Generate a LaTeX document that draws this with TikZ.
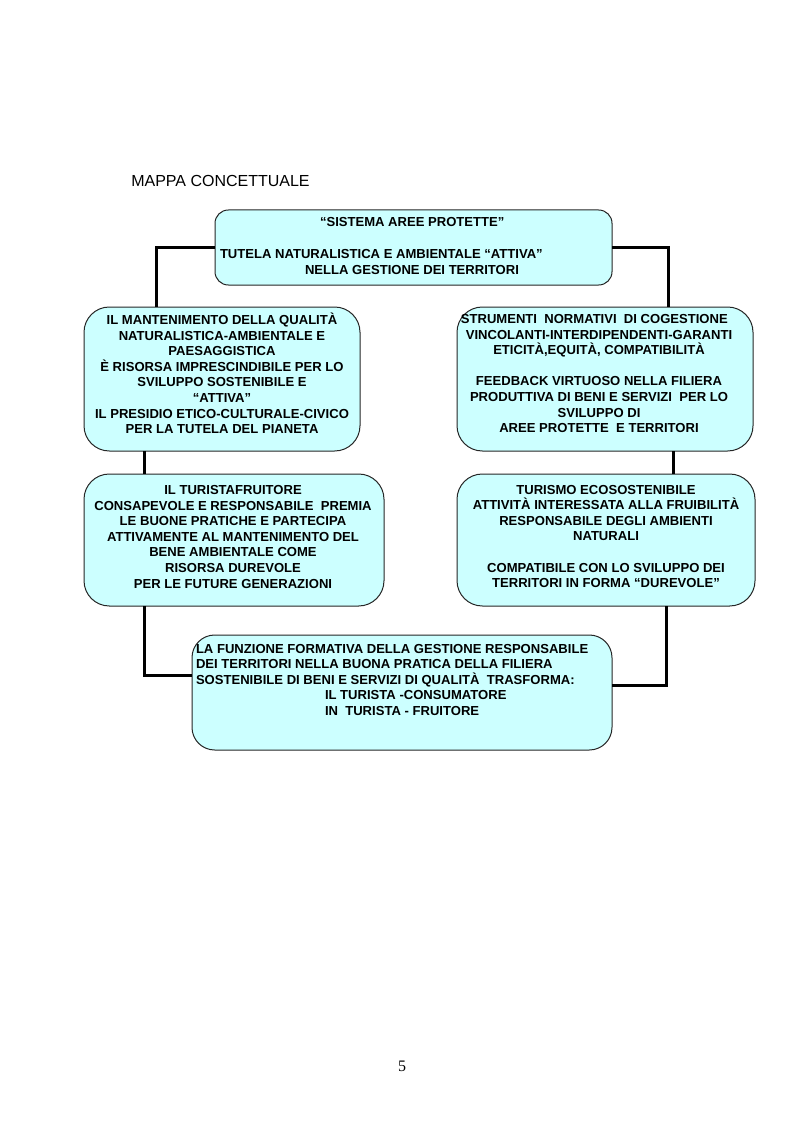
\documentclass[tikz,border=0pt]{standalone}
\usepackage{fontspec}
\setmainfont{Liberation Sans}
\newfontfamily\seriffont{Liberation Serif}
\usetikzlibrary{calc}
\definecolor{boxfill}{HTML}{CCFFFF}
\tikzset{
  cbox/.style={draw=black!85, line width=0.75pt, fill=boxfill, inner sep=0pt, outer sep=0pt},
  conn/.style={draw=black, line width=2.25pt, line join=miter},
  btxt/.style={inner sep=0pt, outer sep=0pt, font=\fontsize{9.8}{11.7}\selectfont\bfseries},
}
\begin{document}
\begin{tikzpicture}[x=0.75pt,y=-0.75pt]
\useasboundingbox (0,0) rectangle (794,1123);
% title
\node[anchor=base west, inner sep=0pt, font=\fontsize{12}{14}\selectfont] (title) at (131,186.5) {MAPPA CONCETTUALE};
% boxes
\node[cbox, rounded corners=10pt, minimum width=297.75pt, minimum height=56.25pt] (top) at (413.5,247.5) {};
\node[cbox, rounded corners=19pt, minimum width=207pt, minimum height=108pt] (L1) at (222,379) {};
\node[cbox, rounded corners=19pt, minimum width=222pt, minimum height=108pt] (R1) at (605,379) {};
\node[cbox, rounded corners=19pt, minimum width=225pt, minimum height=99pt] (L2) at (234,540) {};
\node[cbox, rounded corners=19pt, minimum width=223.5pt, minimum height=99pt] (R2) at (606,540) {};
\node[cbox, rounded corners=17pt, minimum width=315pt, minimum height=86.25pt] (B) at (402,692.5) {};
% connectors
\draw[conn] (top.west) -| ($(L1.north west)+(72,0)$);
\draw[conn] (top.east) -| ($(R1.north west)+(211,0)$);
\draw[conn] ($(L1.south west)+(60,0)$) -- ($(L2.north west)+(60,0)$);
\draw[conn] ($(R1.south west)+(216,0)$) -- ($(R2.north west)+(216,0)$);
\draw[conn] ($(L2.south west)+(60,0)$) |- ($(B.north west)+(0,40)$);
\draw[conn] ($(R2.south west)+(209,0)$) |- ($(B.north east)+(0,50)$);
% texts
\node[btxt, anchor=north west, align=left] (toptext) at (220,215) {\rule{0pt}{9pt}\hspace*{75pt}“SISTEMA AREE PROTETTE”\\[12pt]
TUTELA NATURALISTICA E AMBIENTALE “ATTIVA”\\[0.5pt]
\hspace*{63.75pt}NELLA GESTIONE DEI TERRITORI};
\node[btxt, anchor=north, align=center] (L1text) at (222,312.5) {\rule{0pt}{9pt}IL MANTENIMENTO DELLA QUALITÀ\\
NATURALISTICA-AMBIENTALE E\\
PAESAGGISTICA\\
È RISORSA IMPRESCINDIBILE PER LO\\
SVILUPPO SOSTENIBILE E\\
“ATTIVA”\\
IL PRESIDIO ETICO-CULTURALE-CIVICO\\
PER LA TUTELA DEL PIANETA};
\node[btxt, anchor=north, align=center] (R1text) at (599,311.5) {\rule{0pt}{9pt}STRUMENTI\ \ NORMATIVI\ \ DI COGESTIONE\hspace*{7pt}\\
VINCOLANTI-INTERDIPENDENTI-GARANTI\hspace*{19.5pt}\\
ETICITÀ,EQUITÀ, COMPATIBILITÀ\\[11.7pt]
FEEDBACK VIRTUOSO NELLA FILIERA\\
PRODUTTIVA DI BENI E SERVIZI\ \ PER LO\\
SVILUPPO DI\\
AREE PROTETTE\ \ E TERRITORI};
\node[btxt, anchor=north, align=center] (L2text) at (233,482.5) {\rule{0pt}{9pt}IL TURISTAFRUITORE\\
CONSAPEVOLE E RESPONSABILE\ \ PREMIA\\
LE BUONE PRATICHE E PARTECIPA\\
ATTIVAMENTE AL MANTENIMENTO DEL\\
BENE AMBIENTALE COME\\
RISORSA DUREVOLE\\
PER LE FUTURE GENERAZIONI};
\node[btxt, anchor=north, align=center] (R2text) at (606,482) {\rule{0pt}{9pt}TURISMO ECOSOSTENIBILE\\
ATTIVITÀ INTERESSATA ALLA FRUIBILITÀ\\
RESPONSABILE DEGLI AMBIENTI\\
NATURALI\\[11.7pt]
COMPATIBILE CON LO SVILUPPO DEI\\
TERRITORI IN FORMA “DUREVOLE”};
\node[btxt, anchor=north west, align=left] (Btext) at (196,641) {\rule{0pt}{9pt}LA FUNZIONE FORMATIVA DELLA GESTIONE RESPONSABILE\\
DEI TERRITORI NELLA BUONA PRATICA DELLA FILIERA\\
SOSTENIBILE DI BENI E SERVIZI DI QUALITÀ\ \ TRASFORMA:\\
\hspace*{96.75pt}IL TURISTA -CONSUMATORE\\
\hspace*{96.75pt}IN\ \ TURISTA - FRUITORE};
% page number
\node[inner sep=0pt, font=\seriffont\fontsize{12}{14}\selectfont] (pagenum) at (402,1066) {5};
\end{tikzpicture}
\end{document}
